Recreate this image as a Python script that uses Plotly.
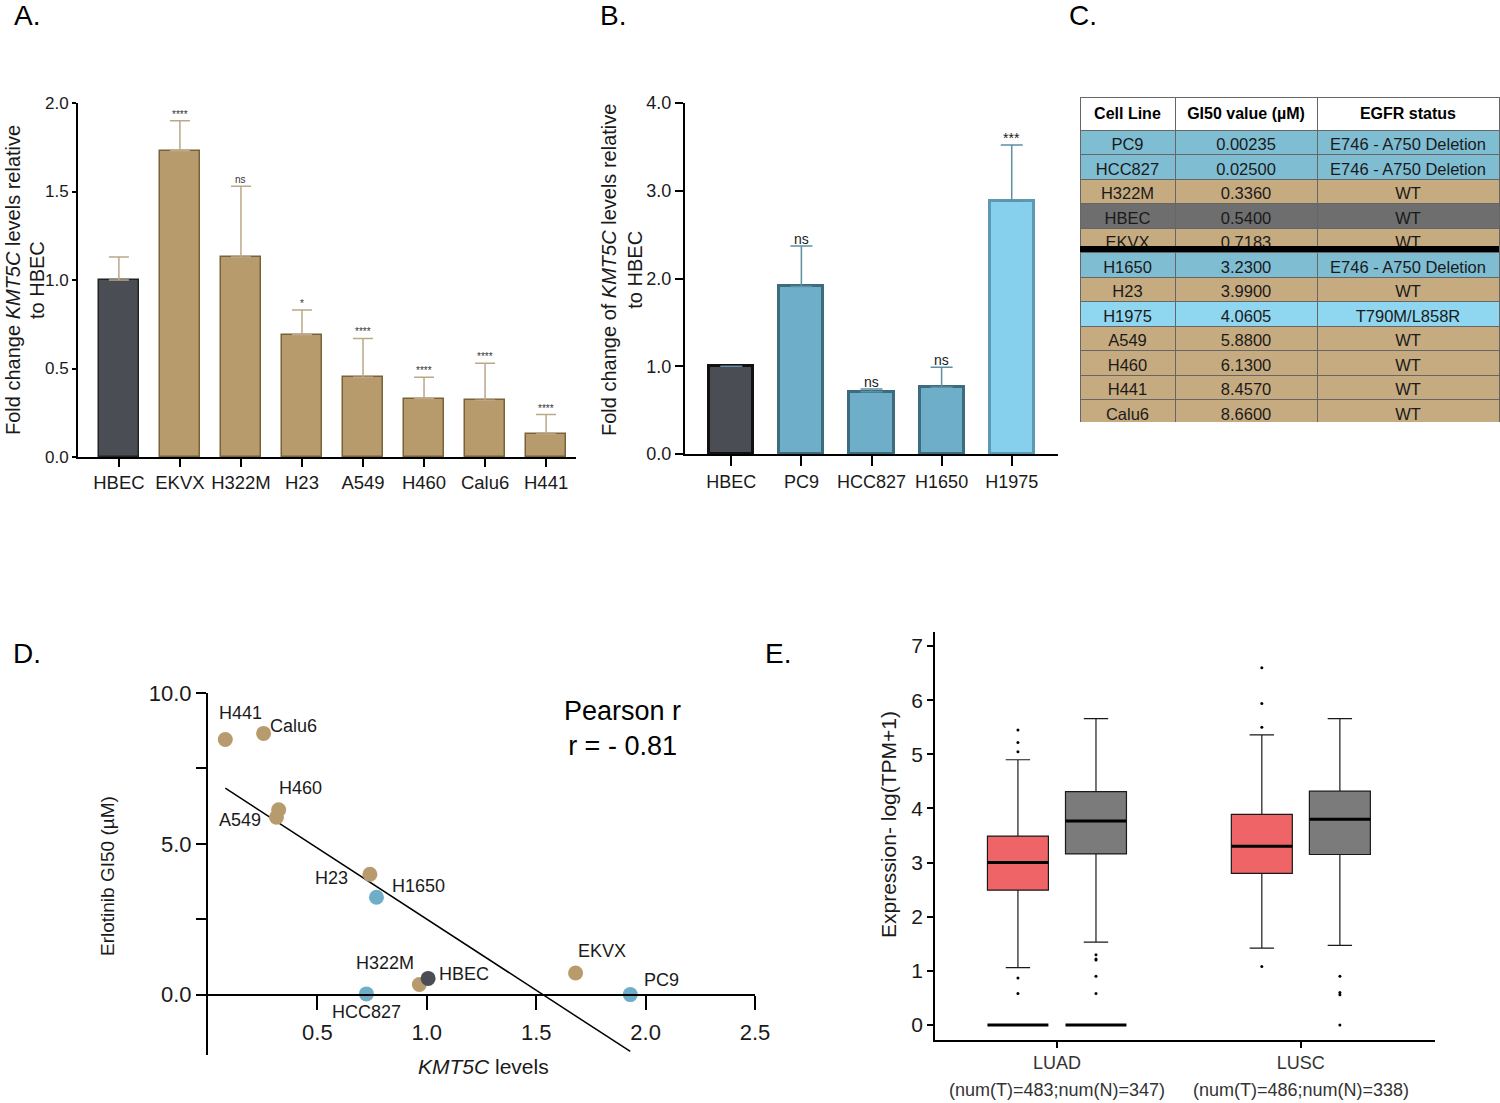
import numpy as np
import plotly.graph_objects as go

W, H = 1500, 1103
FONT = "Liberation Sans, Arial, sans-serif"


def fx(px):
    return px / W


def fy(py):
    return 1 - py / H


# ---- panel A: KMT5C fold change, EGFR-wt lines
a_lines = ["HBEC", "EKVX", "H322M", "H23", "A549", "H460", "Calu6", "H441"]
a_fold = [1.00, 1.73, 1.13, 0.69, 0.45, 0.33, 0.32, 0.13]
a_sd = [0.13, 0.17, 0.40, 0.14, 0.22, 0.12, 0.21, 0.11]
a_sig = ["", "****", "ns", "*", "****", "****", "****", "****"]

# ---- panel B: EGFR-mutant lines
b_lines = ["HBEC", "PC9", "HCC827", "H1650", "H1975"]
b_fold = [1.00, 1.91, 0.71, 0.76, 2.88]
b_sd = [0.0, 0.46, 0.03, 0.23, 0.64]
b_sig = ["", "ns", "ns", "ns", "***"]

# ---- panel C: table
c_lines = ["PC9", "HCC827", "H322M", "HBEC", "EKVX", "H1650", "H23", "H1975",
           "A549", "H460", "H441", "Calu6"]
c_gi50 = ["0.00235", "0.02500", "0.3360", "0.5400", "0.7183", "3.2300", "3.9900",
          "4.0605", "5.8800", "6.1300", "8.4570", "8.6600"]
c_egfr = ["E746 - A750 Deletion", "E746 - A750 Deletion", "WT", "WT", "WT",
          "E746 - A750 Deletion", "WT", "T790M/L858R", "WT", "WT", "WT", "WT"]
c_group = ["del", "del", "wt", "hbec", "wt", "del", "wt", "t790", "wt", "wt", "wt", "wt"]

# ---- panel D: GI50 vs KMT5C
d_lines = ["H441", "Calu6", "H460", "A549", "H23", "H1650", "H322M", "HBEC",
           "HCC827", "EKVX", "PC9"]
d_kmt5c = [0.079, 0.254, 0.323, 0.313, 0.74, 0.77, 0.966, 1.006, 0.724, 1.68, 1.93]
d_gi50 = [8.457, 8.66, 6.13, 5.88, 3.99, 3.23, 0.336, 0.54, 0.025, 0.7183, 0.00235]
d_group = ["wt", "wt", "wt", "wt", "wt", "del", "wt", "hbec", "del", "wt", "del"]
# label offsets (px) from each point
d_dx = [15, 30, 22, -36, -38, 42, -34, 36, 0, 26, 31]
d_dy = [-27, -7, -22, 3, 4, -11, -22, -4, 18, -22, -15]

# ---- panel E: TCGA expression boxes
e_cancer = ["LUAD", "LUSC"]
e_counts = ["(num(T)=483;num(N)=347)", "(num(T)=486;num(N)=338)"]
t_q1 = [2.49, 2.80]
t_med = [3.00, 3.30]
t_q3 = [3.49, 3.89]
t_lo = [1.06, 1.42]
t_hi = [4.90, 5.36]
n_q1 = [3.16, 3.15]
n_med = [3.77, 3.80]
n_q3 = [4.31, 4.32]
n_lo = [1.53, 1.47]
n_hi = [5.66, 5.66]
t_out = [[5.45, 5.22, 5.05, 0.87, 0.58], [6.60, 5.94, 5.50, 1.08]]
n_out = [[1.30, 1.22, 1.20, 0.90, 0.58], [0.90, 0.60, 0.56, 0.0]]

colA = {"hbec": "#4a4e54", "wt": "#b89b6c", "del": "#6faec8", "t790": "#86d0ee"}
lineA = {"hbec": "#222222", "wt": "#7a6238", "del": "#3d6c7e", "t790": "#5c9ab3"}
tab_col = {"hbec": "#6e6e6e", "wt": "#c7ab80", "del": "#7fbdd3", "t790": "#8fd6f0"}

fig = go.Figure()

# A bars
a_grp = ["hbec"] + ["wt"] * (len(a_lines) - 1)
fig.add_trace(go.Bar(
    x=a_lines, y=a_fold, width=0.66,
    marker=dict(color=[colA[g] for g in a_grp],
                line=dict(color=[lineA[g] for g in a_grp], width=1.5)),
    error_y=dict(type="data", array=a_sd, arrayminus=[0] * len(a_sd), symmetric=False,
                 color="#bba888", thickness=1.5, width=10),
    xaxis="x", yaxis="y", showlegend=False))

# B bars
b_grp = ["hbec", "del", "del", "del", "t790"]
fig.add_trace(go.Bar(
    x=b_lines, y=b_fold, width=0.63,
    marker=dict(color=[colA[g] for g in b_grp],
                line=dict(color=["#111111"] + [lineA[g] for g in b_grp[1:]], width=3)),
    error_y=dict(type="data", array=b_sd, arrayminus=[0] * len(b_sd), symmetric=False,
                 color="#5e8fa3", thickness=1.5, width=11),
    xaxis="x2", yaxis="y2", showlegend=False))

# C table
fig.add_trace(go.Table(
    domain=dict(x=[fx(1080), fx(1499)], y=[fy(423), fy(97)]),
    columnwidth=[95, 142, 182],
    header=dict(values=["<b>Cell Line</b>", "<b>GI50 value (µM)</b>", "<b>EGFR status</b>"],
                fill_color="white", line=dict(color="#666666", width=1),
                font=dict(family=FONT, size=16, color="black"), height=30, align="center"),
    cells=dict(values=[c_lines, c_gi50, c_egfr],
               fill_color=[[tab_col[g] for g in c_group]] * 3,
               line=dict(color="#666666", width=1),
               font=dict(family=FONT, size=16.5, color="#1a1a1a"), height=24.5, align="center"),
))

# D scatter + fit
slope, icpt = np.polyfit(d_kmt5c, d_gi50, 1)
xfit = np.array([min(d_kmt5c), max(d_kmt5c)])
fig.add_trace(go.Scatter(x=xfit, y=slope * xfit + icpt, mode="lines",
                         line=dict(color="black", width=1.5),
                         xaxis="x3", yaxis="y3", showlegend=False))
fig.add_trace(go.Scatter(x=d_kmt5c, y=d_gi50, mode="markers",
                         marker=dict(size=15, color=[colA[g] for g in d_group]),
                         xaxis="x3", yaxis="y3", showlegend=False, cliponaxis=False))

# E boxes
e_pos = np.array([1.0, 2.0])
off, bw = 0.16, 0.25
for pos, q1, med, q3, lo, hi, fill, outs in [
    (e_pos - off, t_q1, t_med, t_q3, t_lo, t_hi, "#ef6567", t_out),
    (e_pos + off, n_q1, n_med, n_q3, n_lo, n_hi, "#7b7b7b", n_out),
]:
    fig.add_trace(go.Box(x=list(pos), q1=q1, median=med, q3=q3, lowerfence=lo, upperfence=hi,
                         width=bw, whiskerwidth=0.4, fillcolor=fill,
                         line=dict(color="#1a1a1a", width=1.2),
                         xaxis="x4", yaxis="y4", showlegend=False, hoverinfo="skip"))
    mx, my = [], []
    for p, m in zip(pos, med):
        mx += [p - bw / 2, p + bw / 2, None]
        my += [m, m, None]
    fig.add_trace(go.Scatter(x=mx, y=my, mode="lines", line=dict(color="black", width=3),
                             xaxis="x4", yaxis="y4", showlegend=False))
    ox, oy = [], []
    for p, vals in zip(pos, outs):
        ox += [p] * len(vals)
        oy += vals
    fig.add_trace(go.Scatter(x=ox, y=oy, mode="markers", marker=dict(size=3, color="black"),
                             xaxis="x4", yaxis="y4", showlegend=False))
# rows of zero values in LUAD
zx, zy = [], []
for p in [e_pos[0] - off, e_pos[0] + off]:
    zx += [p - bw / 2, p + bw / 2, None]
    zy += [0, 0, None]
fig.add_trace(go.Scatter(x=zx, y=zy, mode="lines", line=dict(color="black", width=3),
                         xaxis="x4", yaxis="y4", showlegend=False))

ax = dict(showline=True, linecolor="black", linewidth=2, ticks="outside", tickwidth=2,
          tickcolor="black", showgrid=False, zeroline=False, automargin=False,
          tickfont=dict(family=FONT, color="#1a1a1a"))

fig.update_layout(
    template="none",
    width=W, height=H, margin=dict(l=0, r=0, t=0, b=0, pad=0),
    paper_bgcolor="white", plot_bgcolor="white",
    font=dict(family=FONT, color="#1a1a1a"),
    bargap=0,
    xaxis=dict(ax, domain=[fx(78), fx(576)], anchor="y", range=[-0.67, 7.49], ticklen=8,
               tickfont=dict(family=FONT, size=18.5, color="#1a1a1a")),
    yaxis=dict(ax, domain=[fy(457), fy(103)], anchor="x", range=[0, 2.0], ticklen=4,
               tickvals=[0, 0.5, 1.0, 1.5, 2.0], tickformat=".1f",
               tickfont=dict(family=FONT, size=17, color="#1a1a1a")),
    xaxis2=dict(ax, domain=[fx(685), fx(1058)], anchor="y2", range=[-0.66, 4.66], ticklen=10,
                tickfont=dict(family=FONT, size=18, color="#1a1a1a")),
    yaxis2=dict(ax, domain=[fy(454), fy(103)], anchor="x2", range=[0, 4.0], ticklen=8,
                tickvals=[0, 1, 2, 3, 4], tickformat=".1f",
                tickfont=dict(family=FONT, size=18, color="#1a1a1a")),
    xaxis3=dict(ax, domain=[fx(208), fx(755)], anchor="free", position=fy(995),
                range=[0, 2.5], tickvals=[0.5, 1.0, 1.5, 2.0, 2.5], tickformat=".1f",
                ticklen=14, ticklabelstandoff=4,
                tickfont=dict(family=FONT, size=22, color="#1a1a1a")),
    yaxis3=dict(ax, domain=[fy(1055), fy(693)], anchor="x3", range=[-2, 10],
                tickvals=[0, 2.5, 5, 7.5, 10], ticktext=["0.0", "", "5.0", "", "10.0"],
                ticklen=10, tickfont=dict(family=FONT, size=22, color="#1a1a1a")),
    xaxis4=dict(ax, domain=[fx(935), fx(1435)], anchor="y4", range=[0.5, 2.55],
                tickvals=list(e_pos), ticktext=e_cancer, ticklen=6, linewidth=1.5,
                tickfont=dict(family=FONT, size=18, color="#333333")),
    yaxis4=dict(ax, domain=[fy(1040), fy(632)], anchor="x4", range=[-0.277, 7.26],
                tickvals=list(range(8)), ticklen=6, linewidth=1.5,
                tickfont=dict(family=FONT, size=21, color="#1a1a1a")),
)


def pann(text, x, y, size, angle=0, color="#1a1a1a", **kw):
    return dict(text=text, x=fx(x), y=fy(y), xref="paper", yref="paper", xanchor="center",
                yanchor="middle", textangle=angle, showarrow=False,
                font=dict(family=FONT, size=size, color=color), **kw)


ann = []
for txt, x, y in [("A.", 27, 15), ("B.", 613, 15), ("C.", 1083, 15), ("D.", 27, 653), ("E.", 778, 653)]:
    ann.append(pann(txt, x, y, 28, color="black"))

# axis titles
ann.append(pann("Fold change <i>KMT5C</i> levels relative", 13, 280, 20, -90))
ann.append(pann("to HBEC", 37, 280, 20, -90))
ann.append(pann("Fold change of <i>KMT5C</i> levels relative<br>to HBEC", 622, 270, 20, -90))
ann.append(pann("Erlotinib GI50 (µM)", 107, 876, 19, -90))
ann.append(pann("<i>KMT5C</i> levels", 483, 1066, 21))
ann.append(pann("Expression- log(TPM+1)", 888, 825, 21, -90))
ann.append(pann("Pearson r<br>r = - 0.81", 622, 728, 27, color="black"))

# significance marks
for c, v, s, t in zip(a_lines, a_fold, a_sd, a_sig):
    if t:
        ann.append(dict(text=t, x=c, y=v + s, xref="x", yref="y", yanchor="bottom", yshift=-1,
                        showarrow=False, font=dict(size=10, color="#333333")))
for c, v, s, t in zip(b_lines, b_fold, b_sd, b_sig):
    if t:
        ann.append(dict(text=t, x=c, y=v + s, xref="x2", yref="y2", yanchor="bottom", yshift=-3,
                        showarrow=False, font=dict(size=14, color="#1a1a1a")))

# point labels
for lab, x, y, dx, dy in zip(d_lines, d_kmt5c, d_gi50, d_dx, d_dy):
    ann.append(dict(text=lab, x=x, y=y, xref="x3", yref="y3", xshift=dx, yshift=-dy,
                    xanchor="center", yanchor="middle",
                    showarrow=False, font=dict(size=18, color="#1a1a1a")))

# sample counts under E
for p, t in zip(e_pos, e_counts):
    ann.append(dict(text=t, x=p, y=fy(1090), xref="x4", yref="paper", showarrow=False,
                    xanchor="center", yanchor="middle",
                    font=dict(size=18, color="#333333")))

fig.update_layout(annotations=ann)

# thick divider in the table
fig.add_shape(type="line", xref="paper", yref="paper", x0=fx(1080), x1=fx(1499),
              y0=fy(249), y1=fy(249), line=dict(color="black", width=6))

# the page's default body margin would push the figure off by 8px
fig.write_html("out.html", config={"displayModeBar": False},
               post_script="document.body.style.margin='0';")
